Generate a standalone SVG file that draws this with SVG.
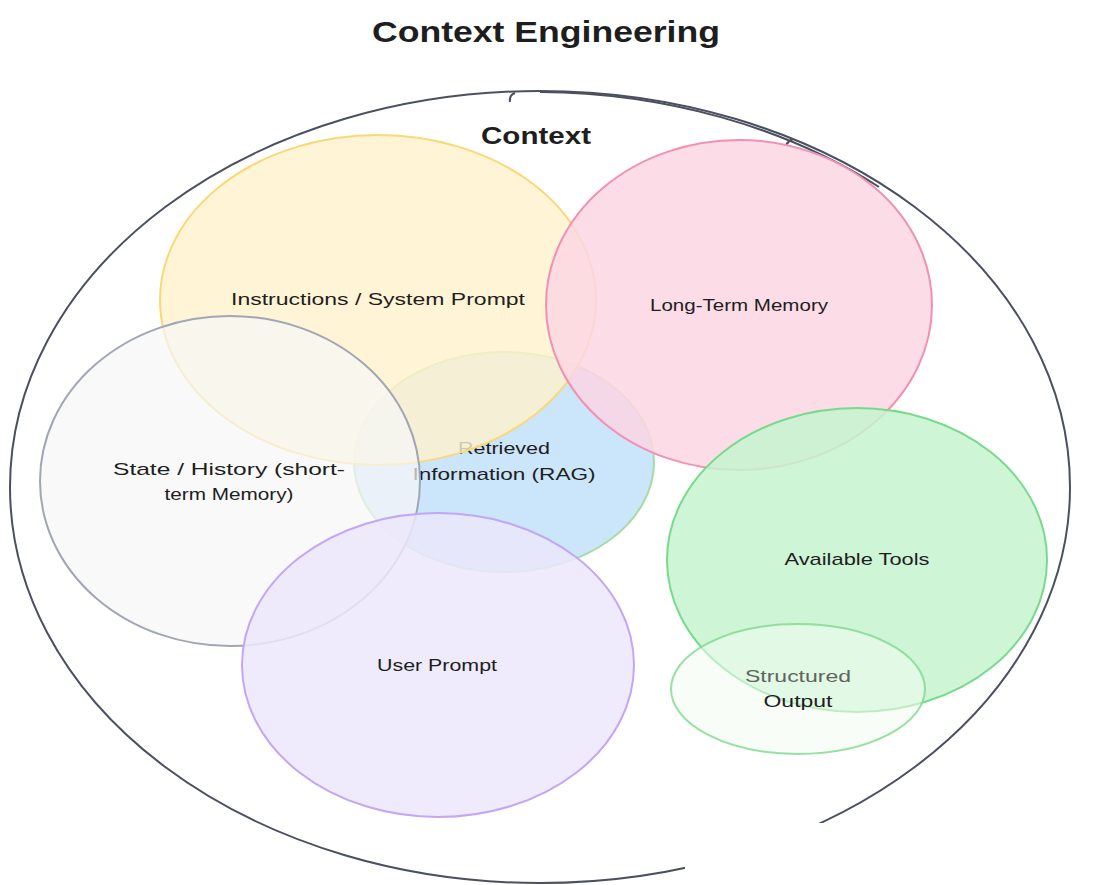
<svg xmlns="http://www.w3.org/2000/svg" width="1103" height="885" viewBox="0 0 1103 885">
<style>
  .lbl { font-family: "Liberation Sans", "DejaVu Sans", sans-serif; fill: #1e1e1e; text-anchor: middle; }
  .set { stroke-width: 2; }
  .outer { fill: none; stroke: #4a5060; stroke-width: 2; }
</style>
<rect width="1103" height="885" fill="#ffffff"/>
<g id="title">
  <text class="lbl" x="546" y="42" font-size="30" font-weight="bold" textLength="348" lengthAdjust="spacingAndGlyphs">Context Engineering</text>
</g>
<g id="context">
  <ellipse class="outer" cx="540" cy="487" rx="530" ry="396"/>
  <path class="outer" stroke-width="1.2" d="M540 92 A527 393 0 0 1 879 187"/>
  <path class="outer" stroke-width="1.2" d="M515 93 q -6 2 -5 9 M793 139 q -5 2 -7 6"/>
  <text class="lbl" x="536" y="144" font-size="24" font-weight="bold" textLength="110" lengthAdjust="spacingAndGlyphs">Context</text>
</g>
<g id="retrieved">
  <ellipse class="set" cx="504" cy="462" rx="150" ry="110" fill="#c8e4fb" fill-opacity="0.95" stroke="#a5dca5"/>
  <text class="lbl" x="504" y="454" font-size="17" textLength="92" lengthAdjust="spacingAndGlyphs">Retrieved</text>
  <text class="lbl" x="504" y="480" font-size="17" textLength="183" lengthAdjust="spacingAndGlyphs">Information (RAG)</text>
</g>
<g id="instructions">
  <ellipse class="set" cx="378" cy="300" rx="218" ry="165" fill="#fff2cc" fill-opacity="0.8" stroke="#f9d877"/>
  <text class="lbl" x="378" y="305" font-size="17" textLength="294" lengthAdjust="spacingAndGlyphs">Instructions / System Prompt</text>
</g>
<g id="long-term-memory">
  <ellipse class="set" cx="739" cy="305" rx="193" ry="165" fill="#fbd6e3" fill-opacity="0.85" stroke="#f290b3"/>
  <text class="lbl" x="739" y="311" font-size="17" textLength="178" lengthAdjust="spacingAndGlyphs">Long-Term Memory</text>
</g>
<g id="state-history">
  <ellipse class="set" cx="230" cy="481" rx="190" ry="165" fill="#f6f6f6" fill-opacity="0.7" stroke="#a0a6b4" stroke-width="1.5"/>
  <text class="lbl" x="229" y="475" font-size="17" textLength="232" lengthAdjust="spacingAndGlyphs">State / History (short-</text>
  <text class="lbl" x="229" y="500" font-size="17" textLength="129" lengthAdjust="spacingAndGlyphs">term Memory)</text>
</g>
<g id="user-prompt">
  <ellipse class="set" cx="438" cy="665" rx="196" ry="152" fill="#ece7fc" fill-opacity="0.85" stroke="#c3a6f4"/>
  <text class="lbl" x="437" y="671" font-size="17" textLength="120" lengthAdjust="spacingAndGlyphs">User Prompt</text>
</g>
<g id="available-tools">
  <ellipse class="set" cx="857" cy="560" rx="190" ry="152" fill="#c6f3cf" fill-opacity="0.85" stroke="#79d98c"/>
  <text class="lbl" x="857" y="565" font-size="17" textLength="145" lengthAdjust="spacingAndGlyphs">Available Tools</text>
</g>
<g id="structured-output">
  <ellipse class="set" cx="798" cy="689" rx="127" ry="65" fill="#f2fcf3" fill-opacity="0.55" stroke="#7dd98c" stroke-opacity="0.8"/>
  <text class="lbl" x="798" y="682" font-size="17" fill="#5f6660" style="fill:#5f6660" textLength="106" lengthAdjust="spacingAndGlyphs">Structured</text>
  <text class="lbl" x="798" y="707" font-size="17" textLength="69" lengthAdjust="spacingAndGlyphs">Output</text>
</g>
<g id="connectors"></g>
<rect x="685" y="823" width="418" height="62" fill="#ffffff"/>
</svg>
